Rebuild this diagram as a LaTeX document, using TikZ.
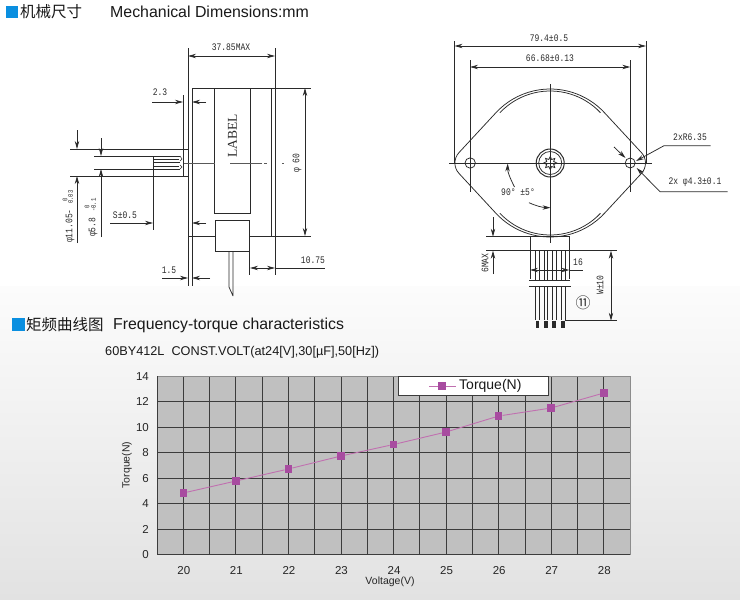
\documentclass[tikz,border=0pt]{standalone}
\usepackage{fontspec}
\setmainfont{Liberation Sans}
\newfontfamily\cjk{Noto Sans CJK SC}
\newfontfamily\dimf[FakeStretch=0.8]{Liberation Mono}
\newfontfamily\labf{Liberation Serif}
\usetikzlibrary{arrows.meta}
\definecolor{headblue}{HTML}{0A8FE0}
\definecolor{ink}{HTML}{2A2A2A}
\definecolor{gridc}{HTML}{3C3C3C}
\definecolor{plotc}{HTML}{C0C0C0}
\definecolor{serc}{HTML}{C070B0}
\definecolor{mkc}{HTML}{A84CA0}
\definecolor{bgtop}{HTML}{FCFCFC}
\definecolor{bgbot}{HTML}{E2E2E2}
\tikzset{
  x=1pt,y=-1pt,
  lin/.style={draw=ink,line width=0.75pt},
  ar/.style={lin,-{Stealth[length=8pt,width=4.4pt]}},
  both/.style={lin,{Stealth[length=8pt,width=4.4pt]}-{Stealth[length=8pt,width=4.4pt]}},
  dimtxt/.style={inner sep=0pt,text=ink,font=\dimf\fontsize{10}{10}\selectfont},
  tick/.style={inner sep=0pt,text=black!85,text height=8.2pt,text depth=0pt,font=\fontsize{11.5}{11.5}\selectfont},
  axl/.style={inner sep=0pt,text=black!85,font=\fontsize{10.5}{10.5}\selectfont},
  head/.style={inner sep=0pt,anchor=west,text=black!90},
  mk/.style={fill=mkc,draw=none,minimum size=7.5pt,inner sep=0pt,rectangle},
  gridl/.style={draw=gridc,line width=0.75pt},
  tiny/.style={inner sep=0pt,text=ink,font=\dimf\fontsize{7}{7}\selectfont}
}
\begin{document}
\begin{tikzpicture}
\useasboundingbox (0,0) rectangle (740,600);
\fill[white] (0,0) rectangle (740,286);
\shade[top color=bgtop,bottom color=bgbot,draw=none] (0,286) rectangle (740,600);
% headers
\fill[headblue] (5.5,5.5) rectangle (17.5,17.5);
\node[head,font=\cjk\fontsize{15.5}{15.5}\selectfont] (h1) at (20,11.5) {机械尺寸};
\node[head,font=\fontsize{15.9}{15.9}\selectfont] (h2) at (110,11.5) {Mechanical Dimensions:mm};
\fill[headblue] (11.5,317.5) rectangle (25,331);
\node[head,font=\cjk\fontsize{15.5}{15.5}\selectfont] (h3) at (26,324.5) {矩频曲线图};
\node[head,font=\fontsize{15.85}{15.85}\selectfont] (h4) at (113,325) {Frequency-torque characteristics};
\node[head,font=\fontsize{12.7}{12.7}\selectfont] (h5) at (105,352) {60BY412L\ \ CONST.VOLT(at24[V],30[µF],50[Hz])};
% ---------- side view
\draw[lin] (188,48) -- (188,286);
\draw[lin] (192,88) -- (192,286);
\draw[lin] (275,48) -- (275,275);
\draw[lin] (271,88) -- (271,236);
\draw[lin] (192,88) -- (311,88);
\draw[lin] (188,236) -- (215,236) (249,236) -- (311,236);
\draw[lin] (214,88) rectangle (250,213);
\draw[lin] (215,220) rectangle (249,251);
\draw[lin] (229,251) -- (229,287) -- (233,296) (233,251) -- (233,296);
\draw[lin] (249.5,251) -- (249.5,275);
\draw[lin,draw=black!65] (183,163) -- (215,163) (230,163) -- (262,163) (264,163) -- (267,163) (282,163) -- (284,163);
\node[inner sep=0pt,rotate=90,text=ink,font=\labf\fontsize{13.5}{13.5}\selectfont] (lab) at (232.5,135.5) {LABEL};
\draw[both] (188,56) -- (275,56);
\node[dimtxt] (t1) at (231,47) {37.85MAX};
\draw[both] (305,88) -- (305,236);
\node[dimtxt,rotate=90] (t2) at (297,163) {φ 60};
\draw[lin] (183,95) -- (183,176);
\draw[ar] (152,102) -- (183,102);
\draw[ar] (206,102) -- (192,102);
\node[dimtxt] (t3) at (160,92) {2.3};
% shaft
\draw[lin] (70,149) -- (188,149) (70,176) -- (188,176);
\draw[lin] (94,156) -- (180,156) (94,169) -- (180,169);
\draw[lin] (153,156) -- (153,230);
\draw[line width=1.6pt,ink] (153,162.5) -- (180,162.5);
\draw[lin,line width=0.5pt] (153,159) -- (179,159) (153,166.5) -- (179,166.5);
\draw[lin,line width=0.5pt] (180,156) -- (182,159) -- (180,161) (180,165) -- (182,167) -- (180,169);
\draw[ar] (77,130) -- (77,149);
\draw[ar] (77,243) -- (77,176);
\draw[ar] (101,138) -- (101,156);
\draw[ar] (101,237) -- (101,169);
\node[dimtxt,rotate=90,anchor=west] (t4) at (70,243) {φ11.05-};
\node[tiny,rotate=90] (t4a) at (65,200) {0};
\node[tiny,rotate=90] (t4b) at (70.5,197) {0.03};
\node[dimtxt,rotate=90,anchor=west] (t5) at (93,237) {φ5.8};
\node[tiny,rotate=90] (t5a) at (87,207) {0};
\node[tiny,rotate=90] (t5b) at (93.5,205) {-0.1};
\draw[ar] (110,223) -- (153,223);
\draw[ar] (206,223) -- (192,223);
\node[dimtxt] (t6) at (125,215) {S±0.5};
\draw[ar] (162,278) -- (188,278);
\draw[ar] (210,278) -- (192,278);
\node[dimtxt] (t7) at (169,270) {1.5};
\draw[both] (250,268) -- (275,268);
\draw[lin] (275,268) -- (325,268);
\node[dimtxt] (t8) at (313,260) {10.75};
% ---------- front view
\begin{scope}[shift={(550.2,163)},y=1pt]
  \draw[lin] (42.8:74) arc[start angle=42.8,end angle=137.2,radius=74]
    -- ({-80+15.3*cos(137.2)},{15.3*sin(137.2)}) arc[start angle=137.2,end angle=222.8,radius=15.3]
    -- (222.8:74) arc[start angle=222.8,end angle=317.2,radius=74]
    -- ({80+15.3*cos(317.2)},{15.3*sin(317.2)}) arc[start angle=-42.8,end angle=42.8,radius=15.3] -- cycle;
  \draw[lin] ([shift={(0,2.9)}]43.3:69.1) arc[start angle=43.3,end angle=136.7,radius=69.1];
  \draw[lin] ([shift={(0,-2.9)}]223.3:69.1) arc[start angle=223.3,end angle=316.7,radius=69.1];
  \draw[lin] (-80,0) circle[radius=5.2] (80,0) circle[radius=5];
  \draw[lin,line width=1pt] (0,0) circle[radius=14];
  \draw[lin] (0,0) circle[radius=11.5];
  \draw[lin,line width=0.8pt] plot[samples at={0,22.5,...,360}] (\x:{mod(\x/22.5,2)==0?6.5:3.8}) -- cycle;
\end{scope}
\draw[lin] (449,163) -- (652,163);
\draw[lin] (550.5,84) -- (550.5,243);
\draw[lin] (454.5,41) -- (454.5,163) (646,41) -- (646,163);
\draw[both] (454.5,46) -- (646,46);
\node[dimtxt] (t9) at (549,38) {79.4±0.5};
\draw[lin] (470,60) -- (470,192) (630.3,60) -- (630.3,192);
\draw[both] (470,67) -- (630.3,67);
\node[dimtxt] (t10) at (550,58) {66.68±0.13};
\draw[ar] (710.7,145.7) -- (664,145.7) -- (636,161);
\node[dimtxt] (t11) at (690,137) {2xR6.35};
\draw[ar] (727.7,191.7) -- (660,191.7) -- (636.7,168);
\node[dimtxt] (t12) at (695,182) {2x φ4.3±0.1};
\draw[ar] (614,147) -- (625.5,158);
\node[dimtxt] (t13) at (518,192) {90° ±5°};
\draw[ar] (514.5,187) .. controls (510,178) and (507.5,172) .. (507.7,163.5);
\draw[ar] (529,202.7) .. controls (535,205.5) and (542,207.5) .. (550.5,207.7);
% leads
\draw[lin] (486,236.7) -- (570,236.7);
\draw[lin] (486,250.7) -- (617,250.7);
\draw[lin] (530,236.7) -- (530,279) (569.3,236.7) -- (569.3,279);
\draw[ar] (493,217) -- (493,236.7);
\draw[ar] (493,274) -- (493,250.7);
\node[dimtxt,rotate=90] (t14) at (485,263) {6MAX};
\foreach \a/\b in {535.7/539.2,544/547.7,552.3/556,561/565}{
  \draw[lin] (\a,251) -- (\a,280) (\b,251) -- (\b,280);
  \draw[lin] (\a,286) -- (\a,320) (\b,286) -- (\b,320);
  \draw[ink,line width=3.4pt,dash pattern=on 1.4pt off 0.5pt] ({(\a+\b)/2},320.5) -- ({(\a+\b)/2},328);
}
\draw[lin] (529,280) -- (570,280) (529,286) -- (571,286);
\draw[both] (530,270) -- (569.3,270);
\draw[lin] (569.3,270) -- (583,270);
\node[dimtxt] (t15) at (578,262) {16};
\draw[both] (611,250.7) -- (611,320.7);
\draw[lin] (565,320.7) -- (617,320.7);
\node[dimtxt,rotate=90] (t16) at (600,285) {W±10};
\node[inner sep=0pt,text=ink,font=\cjk\fontsize{15}{15}\selectfont] (t17) at (583,303) {⑪};
% ---------- chart
\fill[plotc] (157,376) rectangle (630,554.5);
\foreach \i in {1,...,17} \draw[gridl] ({157+\i*26.28},376) -- ({157+\i*26.28},554.5);
\foreach \i in {1,...,6} \draw[gridl] (157,{376+\i*25.5}) -- (630,{376+\i*25.5});
\draw[draw=black!45,line width=0.8pt] (157,376) -- (630,376) -- (630,554.5);
\draw[gridl] (157,376) -- (157,554.5) -- (630,554.5);
\foreach \v/\i in {14/0,12/1,10/2,8/3,6/4,4/5,2/6,0/7}
  \node[tick,anchor=east] (y\v) at (149,{376+\i*25.5}) {\v};
\foreach \v in {20,...,28}
  \node[tick] (x\v) at ({183.8+(\v-20)*52.56},570) {\v};
\node[axl] (xl) at (390,582) {Voltage(V)};
\node[axl,rotate=90] (yl) at (127,465) {Torque(N)};
\draw[fill=white,draw=gridc,line width=0.75pt] (398,376.3) rectangle (548,395);
\node[mk] (lm) at (442,386) {};
\draw[serc,line width=0.8pt] (429,386) -- (lm) -- (456,386);
\node[inner sep=0pt,anchor=west,text=black!90,font=\fontsize{14}{14}\selectfont] (lt) at (459,386.3) {Torque(N)};
\foreach \n/\xx/\yy in {20/183.3/493,21/235.9/481,22/288.4/469,23/341/456,24/393.5/444.5,25/446.1/432,26/498.7/416,27/551.2/408,28/603.8/393}
  \node[mk] (p\n) at (\xx,\yy) {};
\draw[serc,line width=0.9pt] (p20) -- (p21) -- (p22) -- (p23) -- (p24) -- (p25) -- (p26) -- (p27) -- (p28);
\end{tikzpicture}
\end{document}
